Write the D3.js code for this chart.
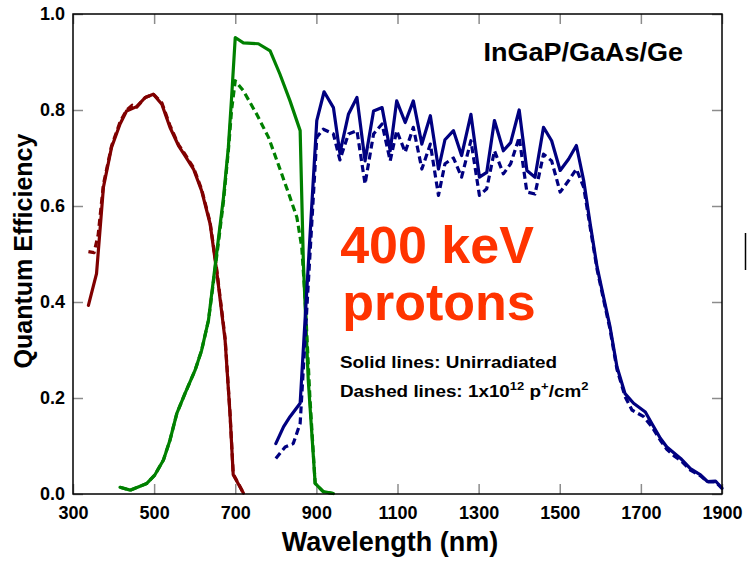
<!DOCTYPE html>
<html>
<head>
<meta charset="utf-8">
<script src="https://cdn.jsdelivr.net/npm/d3@7"></script>
<style>
  html, body { margin: 0; padding: 0; background: #fff; }
  svg { display: block; font-family: "Liberation Sans", Arial, Helvetica, sans-serif; }
</style>
</head>
<body>
<svg id="chart" width="747" height="562"></svg>
<script>
// ---------- data ----------
const xTicks = [300, 500, 700, 900, 1100, 1300, 1500, 1700, 1900];
const yTicks = [0, 0.2, 0.4, 0.6, 0.8, 1.0];

// InGaP top cell (red)
const redSolidWl = [338, 358, 375, 395, 416, 432, 457, 478, 498, 519, 539, 560, 576, 597, 617, 638, 654, 675, 687, 695, 720];
const redSolidQE = [0.393, 0.459, 0.639, 0.722, 0.771, 0.798, 0.807, 0.826, 0.833, 0.812, 0.764, 0.726, 0.705, 0.677, 0.632, 0.563, 0.466, 0.320, 0.168, 0.040, 0.002];
const redDashWl = [338, 352, 362, 375, 395, 416, 432, 446, 457, 478, 498, 519, 539, 560, 576, 597, 617, 638, 654, 675, 687, 695, 720];
const redDashQE = [0.505, 0.503, 0.540, 0.645, 0.725, 0.775, 0.800, 0.810, 0.806, 0.826, 0.833, 0.815, 0.768, 0.728, 0.708, 0.680, 0.635, 0.566, 0.470, 0.325, 0.170, 0.042, 0.002];

// GaAs middle cell (green)
const greenSolidWl = [416, 441, 482, 502, 523, 539, 556, 576, 601, 617, 634, 646, 658, 671, 683, 691, 700, 720, 757, 786, 810, 835, 860, 868, 880, 897, 917, 942];
const greenSolidQE = [0.014, 0.008, 0.022, 0.040, 0.071, 0.112, 0.168, 0.209, 0.258, 0.299, 0.362, 0.445, 0.528, 0.618, 0.722, 0.826, 0.951, 0.940, 0.938, 0.923, 0.875, 0.819, 0.757, 0.480, 0.237, 0.022, 0.005, 0.001];
const greenDashWl = [416, 441, 482, 502, 523, 539, 556, 576, 601, 617, 634, 646, 658, 671, 683, 691, 700, 720, 753, 782, 806, 835, 852, 864, 872, 884, 897, 917, 942];
const greenDashQE = [0.014, 0.008, 0.022, 0.040, 0.071, 0.112, 0.168, 0.209, 0.258, 0.299, 0.362, 0.440, 0.520, 0.610, 0.715, 0.800, 0.861, 0.840, 0.791, 0.743, 0.687, 0.618, 0.576, 0.514, 0.410, 0.202, 0.022, 0.005, 0.001];

// Ge bottom cell (blue)
const blueSolidWl = [800, 819, 835, 860, 901, 919, 942, 958, 979, 1000, 1020, 1041, 1062, 1082, 1098, 1119, 1139, 1160, 1181, 1201, 1217, 1238, 1258, 1281, 1302, 1320, 1339, 1361, 1379, 1400, 1419, 1439, 1460, 1480, 1501, 1522, 1541, 1559, 1575, 1592, 1608, 1624, 1641, 1661, 1682, 1711, 1727, 1748, 1764, 1798, 1822, 1847, 1864, 1884, 1900];
const blueSolidQE = [0.105, 0.140, 0.161, 0.189, 0.778, 0.838, 0.805, 0.710, 0.791, 0.826, 0.694, 0.798, 0.805, 0.715, 0.819, 0.774, 0.819, 0.729, 0.788, 0.677, 0.738, 0.757, 0.705, 0.791, 0.660, 0.670, 0.778, 0.715, 0.732, 0.800, 0.674, 0.660, 0.764, 0.736, 0.674, 0.698, 0.726, 0.653, 0.563, 0.473, 0.410, 0.348, 0.265, 0.209, 0.189, 0.171, 0.147, 0.116, 0.098, 0.074, 0.053, 0.040, 0.026, 0.027, 0.012];
const blueDashWl = [800, 823, 843, 860, 901, 917, 942, 958, 979, 1000, 1020, 1041, 1062, 1082, 1098, 1119, 1139, 1160, 1181, 1201, 1217, 1238, 1258, 1281, 1302, 1320, 1339, 1361, 1379, 1400, 1419, 1439, 1460, 1480, 1501, 1522, 1541, 1559, 1575, 1592, 1608, 1624, 1641, 1661, 1678, 1707, 1727, 1748, 1764, 1781, 1798, 1822, 1847, 1864, 1884, 1900];
const blueDashQE = [0.074, 0.098, 0.105, 0.147, 0.743, 0.760, 0.750, 0.696, 0.750, 0.757, 0.646, 0.750, 0.771, 0.694, 0.757, 0.712, 0.764, 0.677, 0.729, 0.622, 0.688, 0.700, 0.660, 0.736, 0.622, 0.636, 0.715, 0.667, 0.688, 0.743, 0.629, 0.625, 0.708, 0.694, 0.629, 0.653, 0.677, 0.639, 0.556, 0.468, 0.405, 0.343, 0.260, 0.203, 0.175, 0.161, 0.140, 0.112, 0.093, 0.080, 0.070, 0.050, 0.038, 0.025, 0.025, 0.012];

const seriesList = [
  { wl: redSolidWl, qe: redSolidQE, color: "#800000", dashed: false },
  { wl: redDashWl, qe: redDashQE, color: "#800000", dashed: true },
  { wl: greenSolidWl, qe: greenSolidQE, color: "#008000", dashed: false },
  { wl: greenDashWl, qe: greenDashQE, color: "#008000", dashed: true },
  { wl: blueSolidWl, qe: blueSolidQE, color: "#000080", dashed: false },
  { wl: blueDashWl, qe: blueDashQE, color: "#000080", dashed: true }
];

// ---------- layout ----------
const L = 73, R = 722, T = 14, B = 494;
const svg = d3.select("#chart");
const x = d3.scaleLinear().domain([300, 1900]).range([L, R]);
const y = d3.scaleLinear().domain([0, 1]).range([B, T]);

const tickGray = "#8c8c8c";

function styleAxis(g) {
  g.select(".domain").remove();
  g.selectAll(".tick line").attr("stroke", tickGray).attr("stroke-width", 1.5);
  g.selectAll(".tick text").attr("fill", "#000").attr("font-weight", "bold")
    .attr("font-family", "'Liberation Sans', Arial, sans-serif");
}

svg.append("g").attr("transform", `translate(0,${B})`)
  .call(d3.axisBottom(x).tickValues(xTicks).tickSize(-10).tickPadding(12).tickFormat(d3.format("d")))
  .call(styleAxis)
  .call(g => g.selectAll(".tick text").attr("font-size", 18));

svg.append("g").attr("transform", `translate(0,${T})`)
  .call(d3.axisTop(x).tickValues(xTicks).tickSize(-10).tickFormat(""))
  .call(styleAxis);

svg.append("g").attr("transform", `translate(${L},0)`)
  .call(d3.axisLeft(y).tickValues(yTicks).tickSize(-10).tickPadding(8).tickFormat(d3.format(".1f")))
  .call(styleAxis)
  .call(g => g.selectAll(".tick text").attr("font-size", 18));

svg.append("g").attr("transform", `translate(${R},0)`)
  .call(d3.axisRight(y).tickValues(yTicks).tickSize(-10).tickFormat(""))
  .call(styleAxis);

// ---------- lines ----------
const line = d3.line().x(d => x(d[0])).y(d => y(d[1]));
const plot = svg.append("g");
seriesList.forEach(s => {
  const pts = s.wl.map((w, i) => [w, s.qe[i]]);
  plot.append("path")
    .datum(pts)
    .attr("d", line)
    .attr("fill", "none")
    .attr("stroke", s.color)
    .attr("stroke-width", 3.2)
    .attr("stroke-linejoin", "round")
    .attr("stroke-linecap", s.dashed ? "butt" : "round")
    .attr("stroke-dasharray", s.dashed ? "7,4" : null);
});

// frame
svg.append("rect")
  .attr("x", L).attr("y", T).attr("width", R - L).attr("height", B - T)
  .attr("fill", "none").attr("stroke", "#000").attr("stroke-width", 1.5);

// ---------- texts ----------
svg.append("text")
  .attr("x", 390).attr("y", 551)
  .attr("text-anchor", "middle").attr("font-size", 27).attr("font-weight", "bold")
  .text("Wavelength (nm)");

svg.append("text")
  .attr("transform", "translate(32,251) rotate(-90)")
  .attr("text-anchor", "middle").attr("font-size", 25).attr("font-weight", "bold")
  .text("Quantum Efficiency");

svg.append("text")
  .attr("transform", "translate(683,61) scale(1.08,1)")
  .attr("text-anchor", "end").attr("font-size", 25).attr("font-weight", "bold")
  .text("InGaP/GaAs/Ge");

svg.append("text")
  .attr("x", 437).attr("y", 263)
  .attr("text-anchor", "middle").attr("font-size", 52).attr("font-weight", "bold")
  .attr("fill", "#ff3300")
  .text("400 keV");

svg.append("text")
  .attr("x", 439).attr("y", 320)
  .attr("text-anchor", "middle").attr("font-size", 52).attr("font-weight", "bold")
  .attr("fill", "#ff3300")
  .text("protons");

svg.append("text")
  .attr("transform", "translate(340,368) scale(1.18,1)")
  .attr("font-size", 16).attr("font-weight", "bold")
  .text("Solid lines: Unirradiated");

const t2 = svg.append("text")
  .attr("transform", "translate(340,397) scale(1.18,1)")
  .attr("font-size", 16).attr("font-weight", "bold");
t2.append("tspan").text("Dashed lines: 1x10");
t2.append("tspan").attr("font-size", 11).attr("dy", -7).text("12");
t2.append("tspan").attr("dy", 7).text(" p");
t2.append("tspan").attr("font-size", 11).attr("dy", -7).text("+");
t2.append("tspan").attr("dy", 7).text("/cm");
t2.append("tspan").attr("font-size", 11).attr("dy", -7).text("2");

// small edge artifact at the right border of the picture
svg.append("line")
  .attr("x1", 745.5).attr("x2", 745.5).attr("y1", 233).attr("y2", 270)
  .attr("stroke", "#000").attr("stroke-width", 1.5);
</script>
</body>
</html>
